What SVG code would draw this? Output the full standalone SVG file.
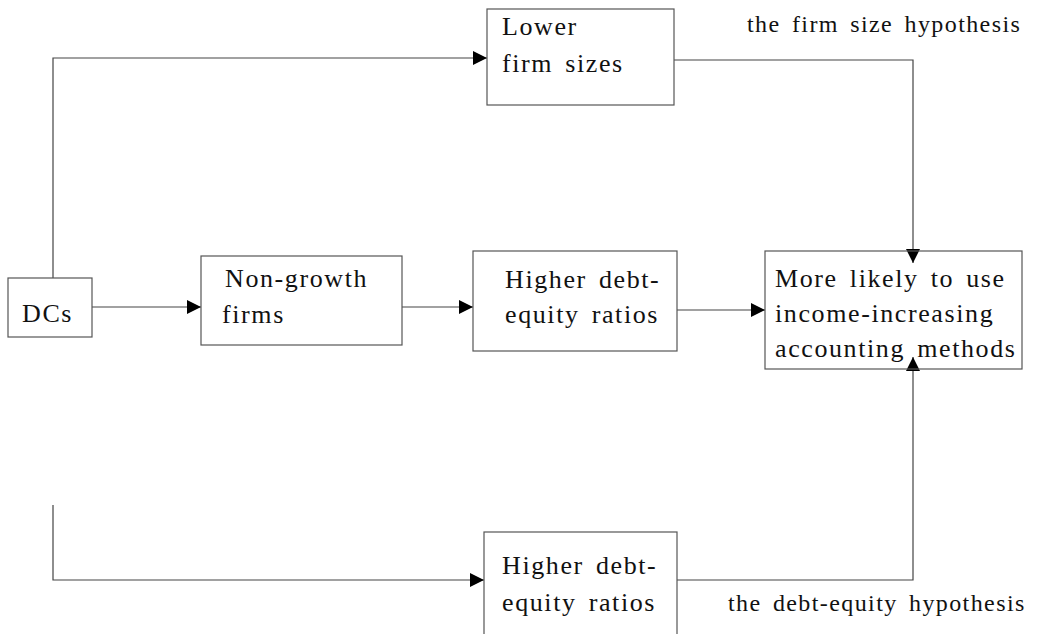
<svg xmlns="http://www.w3.org/2000/svg" width="1037" height="634" viewBox="0 0 1037 634">
<style>
.box{fill:none;stroke:#555;stroke-width:1.2}
.c{fill:none;stroke:#444;stroke-width:1.2}
text{font-family:"Liberation Serif","Times New Roman",serif;font-size:26px;fill:#111;letter-spacing:1.6px;word-spacing:4px}
.lab{font-size:24px;letter-spacing:1.4px}
</style>
<defs>
<marker id="a" viewBox="0 0 10 10" refX="10" refY="5" markerWidth="18" markerHeight="14" markerUnits="userSpaceOnUse" orient="auto">
<path d="M0,0L10,5L0,10z" fill="#000"/>
</marker>
</defs>
<g id="connectors">
<path class="c" d="M53,278V58H487" marker-end="url(#a)"/>
<path class="c" d="M92,307H201" marker-end="url(#a)"/>
<path class="c" d="M402,307H473" marker-end="url(#a)"/>
<path class="c" d="M677,310H765" marker-end="url(#a)"/>
<path class="c" d="M674,60H913V263" marker-end="url(#a)"/>
<path class="c" d="M53,505V580H484" marker-end="url(#a)"/>
<path class="c" d="M677,580H913V357" marker-end="url(#a)"/>
</g>
<g id="dcs"><rect class="box" x="8" y="278" width="84" height="59"/><text x="22" y="322">DCs</text></g>
<g id="nongrowth"><rect class="box" x="201" y="256" width="201" height="89"/><text x="225" y="287">Non-growth</text><text x="222" y="323">firms</text></g>
<g id="higher1"><rect class="box" x="473" y="251" width="204" height="100"/><text x="505" y="288">Higher debt-</text><text x="505" y="323">equity ratios</text></g>
<g id="lower"><rect class="box" x="487" y="9" width="187" height="96"/><text x="502" y="35">Lower</text><text x="502" y="72">firm sizes</text></g>
<g id="morelikely"><rect class="box" x="765" y="251" width="257" height="118"/><text x="775" y="287">More likely to use</text><text x="775" y="322">income-increasing</text><text x="775" y="357">accounting methods</text></g>
<g id="higher2"><rect class="box" x="484" y="532" width="193" height="110"/><text x="502" y="574">Higher debt-</text><text x="502" y="611">equity ratios</text></g>
<g id="labels"><text class="lab" x="747" y="32">the firm size hypothesis</text><text class="lab" x="728" y="611">the debt-equity hypothesis</text></g>
</svg>
